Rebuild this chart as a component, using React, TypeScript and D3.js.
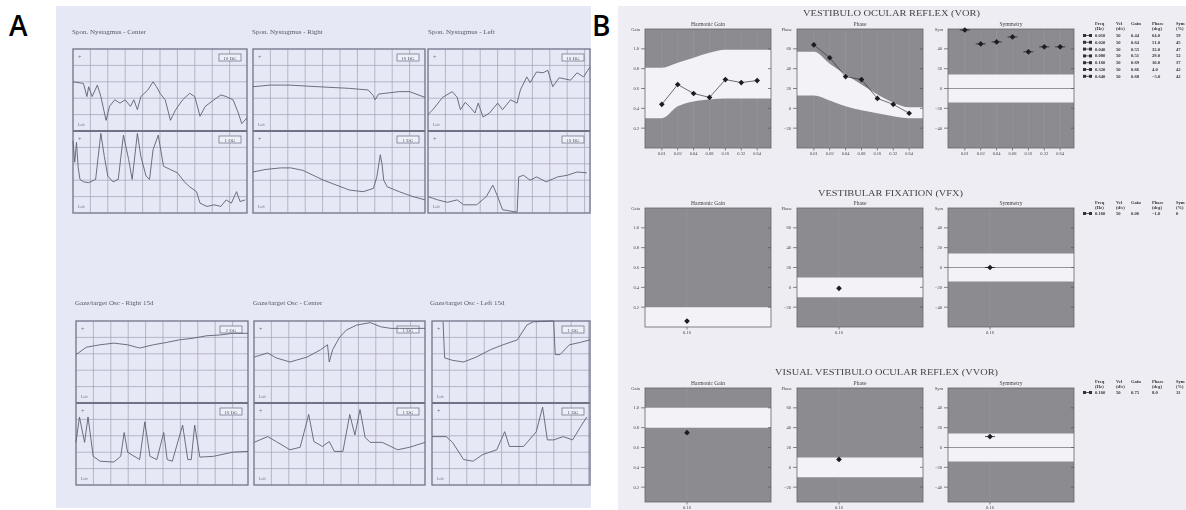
import * as d3 from 'd3';

type Pt = [number, number];

// ---- Panel A: eye position strips, [time % of window, position % of channel height]
const spontCenterH: Pt[] = [[0,60],[6,58],[8,42],[9,54],[11,42],[14,56],[16,42],[19,13],[21,30],[24,38],[27,34],[30,38],[33,30],[35,38],[37,26],[39,42],[43,50],[46,60],[48,54],[50,46],[53,38],[56,13],[59,26],[63,38],[67,46],[70,42],[73,18],[76,30],[81,38],[85,44],[88,42],[92,38],[95,22],[97,9],[100,16]];
const spontCenterV: Pt[] = [[0,88],[1,62],[2,86],[3,55],[4,41],[6,38],[9,37],[13,41],[16,97],[18,69],[20,45],[23,38],[26,41],[29,95],[32,65],[34,41],[37,97],[39,69],[42,45],[44,41],[46,77],[49,95],[52,57],[56,53],[60,49],[64,38],[67,32],[71,26],[73,12],[77,8],[81,10],[85,8],[88,16],[91,12],[94,26],[96,14],[99,16]];
const spontRightH: Pt[] = [[0,54],[10,56],[21,56],[38,54],[56,52],[67,50],[70,43],[71,38],[73,45],[77,46],[85,48],[91,48],[100,41]];
const spontRightV: Pt[] = [[0,50],[7,53],[16,55],[22,55],[29,52],[41,40],[56,28],[64,26],[70,30],[72,44],[74,71],[75,60],[76,40],[78,32],[85,26],[93,20],[100,16]];
const spontLeftH: Pt[] = [[0,20],[3,26],[9,41],[15,48],[18,41],[20,26],[23,35],[26,29],[29,22],[31,34],[34,17],[38,22],[43,34],[46,26],[51,38],[55,34],[57,50],[61,66],[63,59],[67,72],[71,71],[74,74],[77,54],[81,65],[88,62],[92,71],[96,66],[100,78]];
const spontLeftV: Pt[] = [[0,20],[6,16],[12,13],[18,16],[22,10],[30,10],[36,20],[40,34],[43,20],[46,4],[55,1],[56,44],[59,46],[63,40],[67,44],[73,38],[80,44],[86,46],[92,50],[98,49]];
const gazeRightH: Pt[] = [[0,59],[6,68],[14,71],[22,73],[30,71],[37,67],[45,71],[53,74],[60,77],[68,79],[76,82],[84,83],[91,85],[100,85]];
const gazeRightV: Pt[] = [[0,52],[2,83],[5,52],[7,83],[10,35],[14,29],[22,28],[26,35],[28,64],[30,40],[37,31],[40,77],[43,35],[47,31],[51,64],[53,31],[56,29],[62,73],[65,31],[67,31],[69,73],[72,34],[80,35],[91,40],[100,41]];
const gazeCenterH: Pt[] = [[0,56],[8,61],[13,55],[21,50],[31,56],[39,65],[43,71],[44,50],[46,65],[50,80],[54,89],[60,95],[68,98],[74,93],[80,91],[85,91],[100,91]];
const gazeCenterV: Pt[] = [[0,52],[8,59],[13,53],[21,43],[27,46],[32,86],[35,53],[40,47],[44,53],[47,41],[52,41],[56,86],[59,61],[62,92],[65,58],[68,52],[75,52],[84,43],[91,46],[100,52]];
const gazeLeftH: Pt[] = [[7,99],[8,55],[13,52],[20,50],[28,56],[37,65],[45,71],[54,77],[60,95],[64,99],[77,100],[78,59],[81,59],[87,71],[94,74],[100,77]];
const gazeLeftV: Pt[] = [[0,59],[9,59],[13,52],[20,31],[26,29],[32,37],[41,43],[46,65],[49,47],[58,47],[66,65],[70,95],[73,55],[77,55],[83,59],[89,55],[94,71],[98,83]];

const stripTitles = ['Spon. Nystagmus - Center', 'Spon. Nystagmus - Right', 'Spon. Nystagmus - Left',
  'Gaze/target Osc - Right 15d', 'Gaze/target Osc - Center', 'Gaze/target Osc - Left 15d'];
const stripScales = ['10 DG', '1 DG', '10 DG', '1 DG', '10 DG', '10 DG', '2 DG', '10 DG', '1 DG', '1 DG', '1 DG', '1 DG'];

// ---- Panel B: rotational chair results
const vorFreqs = [0.01, 0.02, 0.04, 0.08, 0.16, 0.32, 0.64];
const vorVel = [50, 50, 50, 50, 50, 50, 50];
const vorGain = [0.44, 0.64, 0.55, 0.51, 0.69, 0.66, 0.68];
const vorPhase = [64, 51, 32, 29, 10, 4, -5];
const vorSym = [59, 45, 47, 52, 37, 42, 42];
const vorGainHi = [0.81, 0.86, 0.91, 0.96, 0.99, 0.99, 0.99];
const vorGainLo = [0.30, 0.42, 0.47, 0.49, 0.50, 0.50, 0.50];
const vorPhaseHi = [57, 45, 34, 24, 14, 6, 1];
const vorPhaseLo = [13, 8, 2, -2, -5, -8, -10];

const vfxFreqs = [0.16];
const vfxVel = [50];
const vfxGain = [0.06];
const vfxPhase = [-1];
const vfxSym = [0];
const vfxGainHi = [0.2];
const vfxGainLo = [0];

const vvorFreqs = [0.16];
const vvorVel = [50];
const vvorGain = [0.75];
const vvorPhase = [8];
const vvorSym = [11];
const vvorGainHi = [1.0];
const vvorGainLo = [0.8];

const phaseLimit = [10, -10];
const symLimit = [14, -14];

const gainTicks = [0.2, 0.4, 0.6, 0.8, 1.0];
const phaseTicks = [-20, 0, 20, 40, 60];
const symTicks = [-40, -20, 0, 20, 40];

const SERIF = '"Liberation Serif", "DejaVu Serif", serif';
const GRID = '#9fa1b6';
const INK = '#5e6174';
const FULL_H = 119;

function StripBox({ x, y, w, h, title, tx, ty, upper, lower, scales }: any) {
  const half = h / 2;
  const sx = d3.scaleLinear().domain([0, 100]).range([x, x + w]);
  const syU = d3.scaleLinear().domain([0, 100]).range([y + half, y]);
  const syL = d3.scaleLinear().domain([0, 100]).range([y + h, y + half]);
  const mk = (sy: any) => d3.line<Pt>().x(d => sx(d[0])).y(d => sy(d[1]));
  const vx = d3.range(x + 17.4, x + w - 1, 17.4);
  const hy = d3.range(1, 5).flatMap(i => [y + (i * half) / 5, y + half + (i * half) / 5]);
  return (
    <g>
      <text x={tx} y={ty} fontSize={7} fill="#555868" fontFamily={SERIF}>{title}</text>
      {vx.map((v, i) => <line key={'v' + i} x1={v} x2={v} y1={y} y2={y + h} stroke={GRID} strokeWidth={0.7} />)}
      {hy.map((v, i) => <line key={'h' + i} x1={x} x2={x + w} y1={v} y2={v} stroke={GRID} strokeWidth={0.7} />)}
      <rect x={x} y={y} width={w} height={h} fill="none" stroke="#707387" strokeWidth={1.3} />
      <line x1={x} x2={x + w} y1={y + half} y2={y + half} stroke="#707387" strokeWidth={1.8} />
      {[y, y + half].map((yy, i) => (
        <g key={'l' + i}>
          <text x={x + 5} y={yy + 10} fontSize={6} fill="#6a6d80" fontFamily={SERIF}>+</text>
          <text x={x + 5} y={yy + half - 5} fontSize={4} fill="#6a6d80" fontFamily={SERIF}>Left</text>
          <rect x={x + w - 28} y={yy + 5} width={22} height={7} fill="#eef0f8" stroke="#777a8c" strokeWidth={0.8} />
          <text x={x + w - 17} y={yy + 10.5} fontSize={5} fill="#55586a" textAnchor="middle" fontFamily={SERIF}>{scales[i]}</text>
        </g>
      ))}
      <path d={mk(syU)(upper) || ''} fill="none" stroke={INK} strokeWidth={0.9} />
      <path d={mk(syL)(lower) || ''} fill="none" stroke={INK} strokeWidth={0.9} />
    </g>
  );
}

const yConf: any = {
  gain: { domain: [0, 1.2], ticks: gainTicks, fmt: d3.format('.1f'), title: 'Gain' },
  phase: { domain: [-40, 80], ticks: phaseTicks, fmt: d3.format('d'), title: 'Phase' },
  sym: { domain: [-60, 60], ticks: symTicks, fmt: d3.format('d'), title: 'Sym' },
};

function Plot({ x, y, h, kind, xDomain, xTicks, freqs, values, hi, lo, sub, connect, zero, dash }: any) {
  const w = 126;
  const conf = yConf[kind];
  const [d0, d1] = conf.domain;
  // same units per pixel as a full-height plot, shorter plots just show less of the bottom
  const bottom = d1 - (h / FULL_H) * (d1 - d0);
  const sx = d3.scaleLog().base(2).domain(xDomain).range([x, x + w]);
  const sy = d3.scaleLinear().domain([bottom, d1]).range([y + h, y]);
  const bf = hi.length === 1 ? [] : freqs;
  const bandPts = [
    { f: xDomain[0], hi: hi[0], lo: lo[0] },
    ...bf.map((f: number, i: number) => ({ f, hi: hi[i], lo: lo[i] })),
    { f: xDomain[1], hi: hi[hi.length - 1], lo: lo[lo.length - 1] },
  ];
  const area = d3.area<any>().x(d => sx(d.f)).y0(d => sy(d.lo)).y1(d => sy(d.hi)).curve(d3.curveMonotoneX);
  const pts = freqs.map((f: number, i: number) => [sx(f), sy(values[i])]);
  const line = d3.line();
  const clipId = `c${Math.round(x)}_${Math.round(y)}`;
  const yt = conf.ticks.filter((t: number) => sy(t) < y + h - 2);
  return (
    <g fontFamily={SERIF}>
      <clipPath id={clipId}><rect x={x} y={y} width={w} height={h} /></clipPath>
      <text x={x + w / 2} y={y - 3} fontSize={5.5} textAnchor="middle" fill="#444">{sub}</text>
      <rect x={x} y={y} width={w} height={h} fill="#8c8c90" />
      <g clipPath={`url(#${clipId})`}>
        {xTicks.map((t: number) => <line key={t} x1={sx(t)} x2={sx(t)} y1={y} y2={y + h} stroke="#98989c" strokeWidth={0.6} />)}
        <path d={area(bandPts) || ''} fill="#f3f3f7" />
        {zero && <line x1={x} x2={x + w} y1={sy(0)} y2={sy(0)} stroke="#555" strokeWidth={0.6} />}
      </g>
      <rect x={x} y={y} width={w} height={h} fill="none" stroke="#666" strokeWidth={0.8} />
      <text x={x - 5} y={y + 2} fontSize={4.5} textAnchor="end" fill="#444">{conf.title}</text>
      {yt.map((t: number) => (
        <g key={t}>
          <line x1={x - 4} x2={x} y1={sy(t)} y2={sy(t)} stroke="#555" strokeWidth={0.7} />
          <line x1={x + w - 3} x2={x + w} y1={sy(t)} y2={sy(t)} stroke="#555" strokeWidth={0.7} />
          <text x={x - 6} y={sy(t) + 1.6} fontSize={4.5} textAnchor="end" fill="#444">{conf.fmt(t)}</text>
        </g>
      ))}
      {xTicks.map((t: number) => (
        <g key={'x' + t}>
          <line x1={sx(t)} x2={sx(t)} y1={y + h} y2={y + h + 2.5} stroke="#555" strokeWidth={0.7} />
          <text x={sx(t)} y={y + h + 6.5} fontSize={4.5} textAnchor="middle" fill="#444">{d3.format('.2f')(t)}</text>
        </g>
      ))}
      {connect && <path d={line(pts) || ''} fill="none" stroke="#333" strokeWidth={0.7} />}
      {pts.map((p: number[], i: number) => (
        <g key={'p' + i}>
          {dash && <line x1={p[0] - 5} x2={p[0] + 5} y1={p[1]} y2={p[1]} stroke="#222" strokeWidth={0.8} />}
          <rect x={p[0] - 2} y={p[1] - 2} width={4} height={4} fill="#1e1e22" transform={`rotate(45 ${p[0]} ${p[1]})`} />
        </g>
      ))}
    </g>
  );
}

function Table({ y0, rowY0, freqs, vel, gain, phase, sym }: any) {
  const cols = [1095, 1116, 1131, 1152, 1176];
  const heads = [['Freq', '(Hz)'], ['Vel', '(d/s)'], ['Gain', ''], ['Phase', '(deg)'], ['Sym', '(%)']];
  return (
    <g fontFamily={SERIF} fontSize={4.6} fill="#333" fontWeight="bold">
      {heads.map((hd, i) => (
        <g key={i}>
          <text x={cols[i]} y={y0}>{hd[0]}</text>
          <text x={cols[i]} y={y0 + 4.5}>{hd[1]}</text>
        </g>
      ))}
      {freqs.map((f: number, i: number) => {
        const yy = rowY0 + i * 6.8;
        return (
          <g key={i}>
            <rect x={1083} y={yy - 3} width={3} height={3} fill="#333" />
            <line x1={1086} x2={1089} y1={yy - 1.5} y2={yy - 1.5} stroke="#333" strokeWidth={0.8} />
            <rect x={1089} y={yy - 3} width={3} height={3} fill="#333" />
            <text x={cols[0]} y={yy}>{d3.format('.3f')(f)}</text>
            <text x={cols[1]} y={yy}>{vel[i]}</text>
            <text x={cols[2]} y={yy}>{d3.format('.2f')(gain[i])}</text>
            <text x={cols[3]} y={yy}>{d3.format('.1f')(phase[i])}</text>
            <text x={cols[4]} y={yy}>{sym[i]}</text>
          </g>
        );
      })}
    </g>
  );
}

export default function App() {
  const vorX: [number, number] = [0.0048, 1.17];
  const oneX: [number, number] = [0.04, 2.56];
  const cx = [645, 797, 948];
  const rows = [
    { top: 29, h: 119, title: 'VESTIBULO OCULAR REFLEX (VOR)', tx: 803, tw: 177, ty: 16, freqs: vorFreqs, xd: vorX, vel: vorVel, gain: vorGain, phase: vorPhase, sym: vorSym, ghi: vorGainHi, glo: vorGainLo, phi: vorPhaseHi, plo: vorPhaseLo, head: 25, row0: 37 },
    { top: 208, h: 119, title: 'VESTIBULAR FIXATION (VFX)', tx: 818, tw: 145, ty: 196, freqs: vfxFreqs, xd: oneX, vel: vfxVel, gain: vfxGain, phase: vfxPhase, sym: vfxSym, ghi: vfxGainHi, glo: vfxGainLo, phi: [phaseLimit[0]], plo: [phaseLimit[1]], head: 204, row0: 215 },
    { top: 388, h: 114, title: 'VISUAL VESTIBULO OCULAR REFLEX (VVOR)', tx: 775, tw: 223, ty: 375, freqs: vvorFreqs, xd: oneX, vel: vvorVel, gain: vvorGain, phase: vvorPhase, sym: vvorSym, ghi: vvorGainHi, glo: vvorGainLo, phi: [phaseLimit[0]], plo: [phaseLimit[1]], head: 383, row0: 394 },
  ];
  const strips = [
    { x: 73, y: 49, w: 174, tx: 72, ty: 34, up: spontCenterH, lo: spontCenterV },
    { x: 253, y: 49, w: 172, tx: 252, ty: 34, up: spontRightH, lo: spontRightV },
    { x: 428, y: 49, w: 162, tx: 428, ty: 34, up: spontLeftH, lo: spontLeftV },
    { x: 76, y: 321, w: 172, tx: 75, ty: 305, up: gazeRightH, lo: gazeRightV },
    { x: 254, y: 321, w: 171, tx: 253, ty: 305, up: gazeCenterH, lo: gazeCenterV },
    { x: 432, y: 321, w: 158, tx: 430, ty: 305, up: gazeLeftH, lo: gazeLeftV },
  ];
  return (
    <svg width={1186} height={510} style={{ position: 'absolute', left: 0, top: 0, background: '#fff' }}>
      <defs>
        <filter id="scan" x="0" y="0" width="1" height="1">
          <feGaussianBlur stdDeviation="0.6" />
        </filter>
        <clipPath id="panelA"><rect x={56} y={6} width={535} height={502} /></clipPath>
      </defs>
      <rect width={1186} height={510} fill="#fff" />
      <text x={9} y={36} fontSize={28} fontFamily='"Open Sans", "Liberation Sans", sans-serif' fontWeight={600}>A</text>
      <text x={592} y={36} fontSize={28} fontFamily='"Open Sans", "Liberation Sans", sans-serif' fontWeight={600}>B</text>

      <g clipPath="url(#panelA)">
        <g filter="url(#scan)">
          <rect x={56} y={6} width={535} height={502} fill="#e7e8f5" />
          {strips.map((s, i) => (
            <StripBox key={i} x={s.x} y={s.y} w={s.w} h={164} title={stripTitles[i]} tx={s.tx} ty={s.ty}
              upper={s.up} lower={s.lo} scales={[stripScales[i * 2], stripScales[i * 2 + 1]]} />
          ))}
        </g>
      </g>

      <g filter="url(#scan)">
        <rect x={618} y={6} width={568} height={504} fill="#ededf3" />
        {rows.map((r, i) => (
          <g key={i}>
            <text x={r.tx} y={r.ty} fontSize={7.5} fontFamily={SERIF} fill="#444" textLength={r.tw} lengthAdjust="spacingAndGlyphs">{r.title}</text>
            <Plot x={cx[0]} y={r.top} h={r.h} kind="gain" xDomain={r.xd} xTicks={r.freqs} freqs={r.freqs} values={r.gain}
              hi={r.ghi} lo={r.glo} sub="Harmonic  Gain" connect />
            <Plot x={cx[1]} y={r.top} h={r.h} kind="phase" xDomain={r.xd} xTicks={r.freqs} freqs={r.freqs} values={r.phase}
              hi={r.phi} lo={r.plo} sub="Phase" connect />
            <Plot x={cx[2]} y={r.top} h={r.h} kind="sym" xDomain={r.xd} xTicks={r.freqs} freqs={r.freqs} values={r.sym}
              hi={[symLimit[0]]} lo={[symLimit[1]]} sub="Symmetry" zero dash />
            <Table y0={r.head} rowY0={r.row0} freqs={r.freqs} vel={r.vel} gain={r.gain} phase={r.phase} sym={r.sym} />
          </g>
        ))}
      </g>
    </svg>
  );
}
